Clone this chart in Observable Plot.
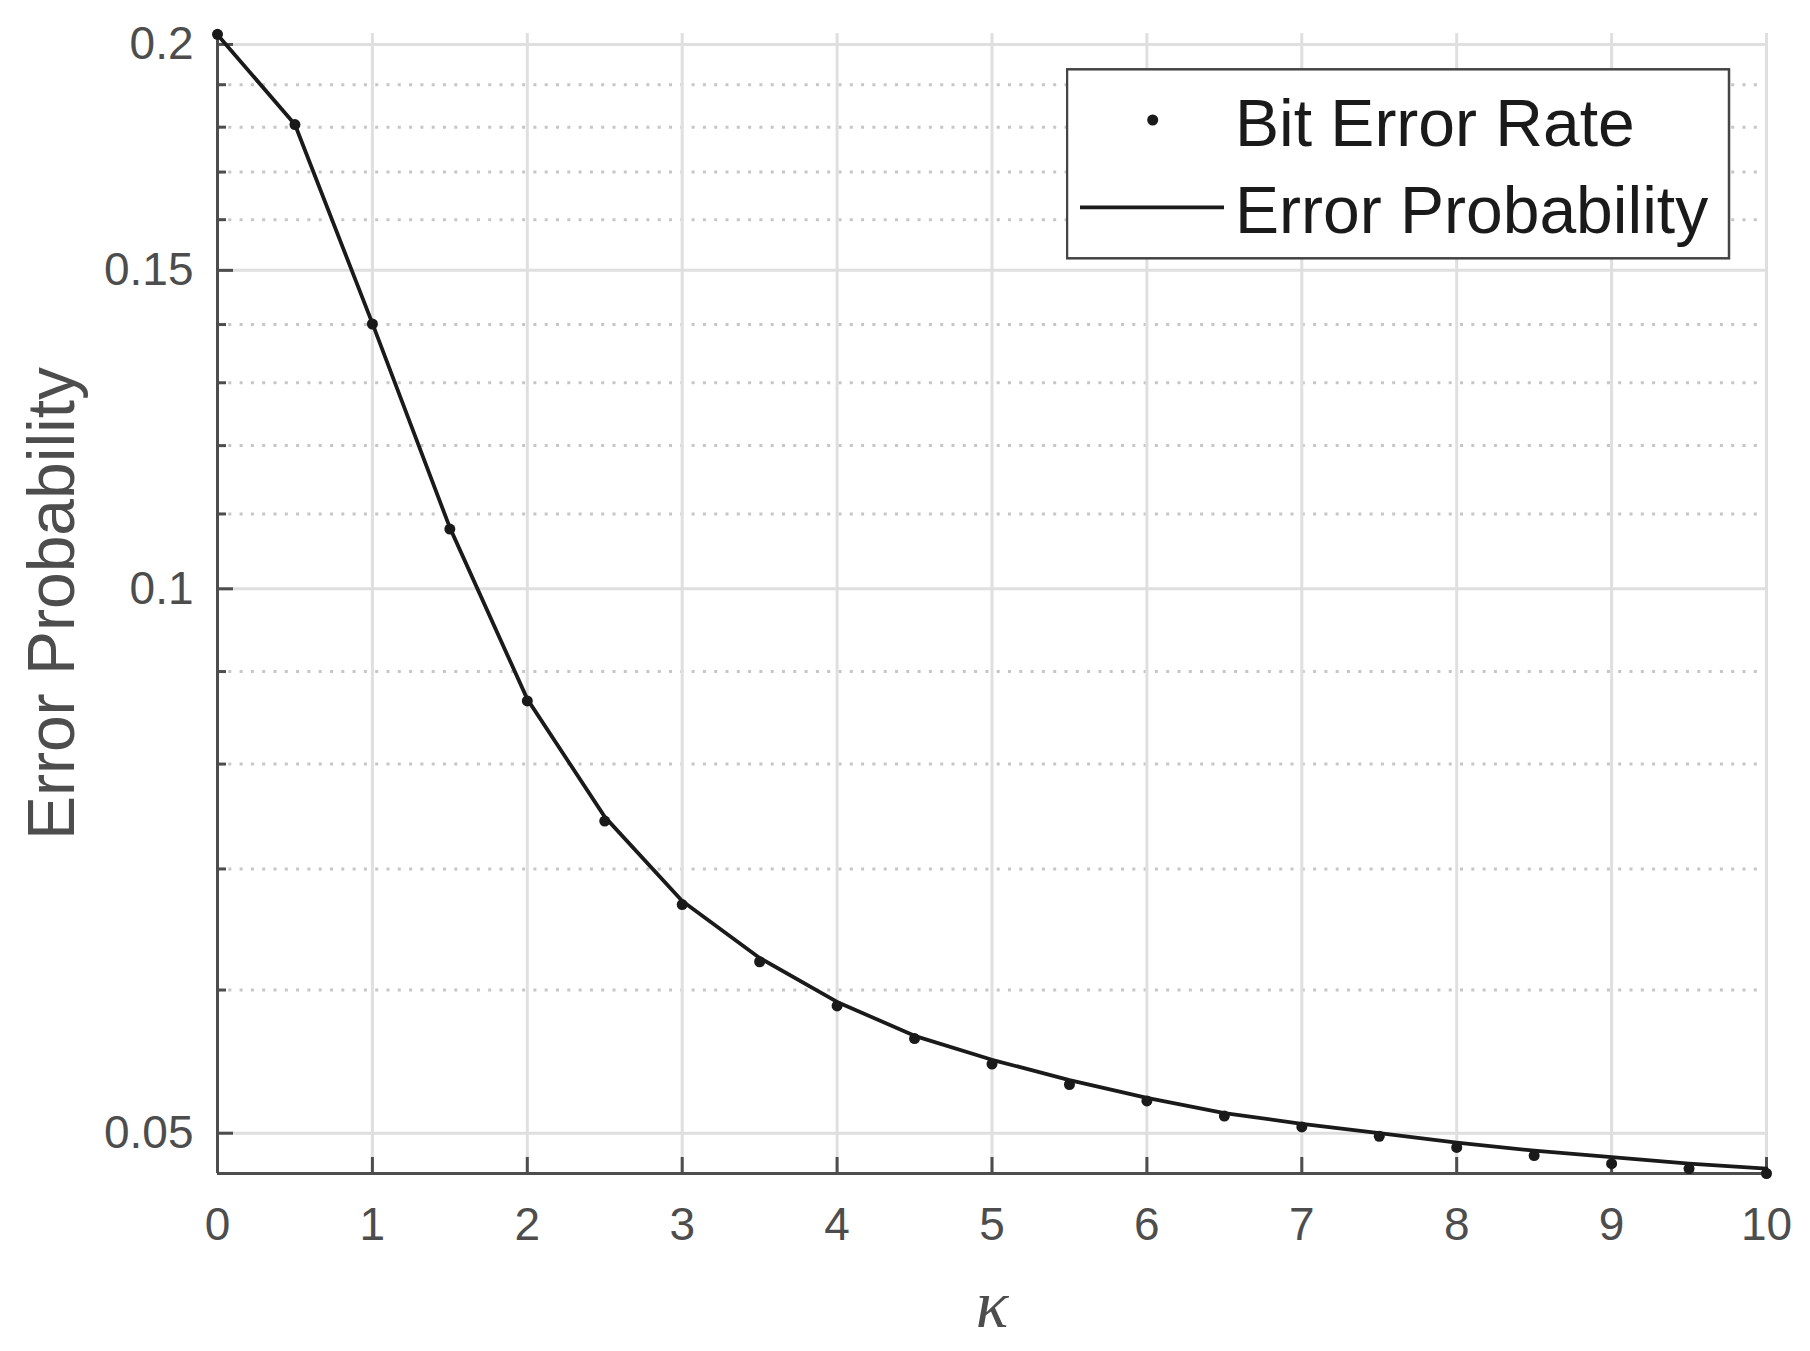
<!DOCTYPE html>
<html><head><meta charset="utf-8">
<script src="https://cdn.jsdelivr.net/npm/d3@7"></script>
<script src="https://cdn.jsdelivr.net/npm/@observablehq/plot@0.6"></script>
<style>
html,body{margin:0;padding:0;background:#fff;}
#wrap{position:relative;width:1810px;height:1351px;overflow:hidden;}
#legend{position:absolute;left:1066px;top:68px;}
</style></head><body>
<div id="wrap"></div>
<script>
// ---- data ----
const kappa = [0,0.5,1,1.5,2,2.5,3,3.5,4,4.5,5,5.5,6,6.5,7,7.5,8,8.5,9,9.5,10];
const bitErrorRate = [0.2026,0.1806,0.1401,0.1079,0.0867,0.0744,0.0669,0.0622,0.0588,0.0564,0.0546,0.0532,0.0521,0.0511,0.0504,0.0498,0.0491,0.0486,0.0481,0.0478,0.0475];
const errorProbability = [0.2025,0.1806,0.1402,0.1081,0.0869,0.0748,0.0672,0.0625,0.0591,0.0566,0.0549,0.0535,0.0523,0.0513,0.0506,0.0500,0.0494,0.0489,0.0485,0.0481,0.0478];
const xTicks = [0,1,2,3,4,5,6,7,8,9,10];
const yTicks = [0.05,0.1,0.15,0.2];
const yMinorTicks = [0.06,0.07,0.08,0.09,0.11,0.12,0.13,0.14,0.16,0.17,0.18,0.19];
const yDomain = [0.0475,0.2028];
const seriesNames = ["Bit Error Rate","Error Probability"];
const xLabel = "κ";
const yLabel = "Error Probability";

// ---- layout ----
const W = 1810, H = 1351;
const mL = 217, mR = 44, mT = 33, mB = 178;
const plotW = W - mL - mR, plotH = H - mT - mB;
const ink = "#4d4d4d";
const dark = "#1a1a1a";

const berData = kappa.map((k,i)=>({k, v: bitErrorRate[i]}));
const epData = kappa.map((k,i)=>({k, v: errorProbability[i]}));

const chart = Plot.plot({
  width: W, height: H,
  marginLeft: mL, marginRight: mR, marginTop: mT, marginBottom: mB,
  style: {fontFamily: "'Liberation Sans', Arial, sans-serif", color: ink, background: "#fff", overflow: "visible"},
  x: {domain: [0,10]},
  y: {type: "log", domain: yDomain},
  marks: [
    Plot.gridY(yMinorTicks, {stroke: "#c6c6c6", strokeOpacity: 1, strokeWidth: 3, strokeDasharray: "3,8.3"}),
    Plot.gridY(yTicks, {stroke: "#dfdfdf", strokeOpacity: 1, strokeWidth: 3}),
    Plot.gridX(xTicks, {stroke: "#dfdfdf", strokeOpacity: 1, strokeWidth: 3}),
    Plot.ruleX([0], {stroke: ink, strokeWidth: 3}),
    Plot.ruleY([yDomain[0]], {stroke: ink, strokeWidth: 3}),
    Plot.tickX(xTicks, {x: d=>d, stroke: ink, strokeWidth: 3, insetTop: plotH - 16}),
    Plot.tickY(yTicks, {y: d=>d, stroke: ink, strokeWidth: 3, insetRight: plotW - 16}),
    Plot.tickY(yMinorTicks, {y: d=>d, stroke: ink, strokeWidth: 3, insetRight: plotW - 9}),
    Plot.axisX({ticks: xTicks, tickSize: 0, tickPadding: 34, fontSize: 46, label: null, tickFormat: d=>String(d)}),
    Plot.axisY({ticks: yTicks, tickSize: 0, tickPadding: 24, fontSize: 46, label: null, tickFormat: d=>String(d)}),
    Plot.text([yLabel], {frameAnchor: "left", text: d=>d, rotate: -90, dx: -144, textAnchor: "middle", lineAnchor: "bottom", fontSize: 66, fill: ink}),
    Plot.text([xLabel], {frameAnchor: "bottom", text: d=>d, dy: 153, textAnchor: "middle", lineAnchor: "bottom", fontSize: 68, fontStyle: "italic", fontFamily: "'Liberation Serif', 'DejaVu Serif', serif", fill: ink}),
    Plot.dot(berData, {x: "k", y: "v", r: 5.5, fill: dark, stroke: null}),
    Plot.line(epData, {x: "k", y: "v", stroke: dark, strokeWidth: 3.8})
  ]
});
const wrap = document.getElementById("wrap");
wrap.appendChild(chart);

// ---- legend (inside the axes, top right) ----
const ns = "http://www.w3.org/2000/svg";
const lg = document.createElementNS(ns, "svg");
lg.setAttribute("id", "legend");
lg.setAttribute("width", 666);
lg.setAttribute("height", 193);
lg.style.fontFamily = "'Liberation Sans', Arial, sans-serif";
function el(tag, attrs, txt){const e=document.createElementNS(ns,tag);for(const k in attrs)e.setAttribute(k,attrs[k]);if(txt)e.textContent=txt;lg.appendChild(e);return e;}
el("rect", {x:1, y:1.3, width:662, height:189, fill:"#fff", stroke:"#444", "stroke-width":2.5});
el("circle", {cx:86.7, cy:52, r:5.5, fill:dark});
el("text", {x:169, y:77.7, "font-size":66, fill:dark}, seriesNames[0]);
el("line", {x1:14, x2:158, y1:139.3, y2:139.3, stroke:dark, "stroke-width":3.8});
el("text", {x:169, y:164.7, "font-size":66, fill:dark}, seriesNames[1]);
wrap.appendChild(lg);
</script>
</body></html>
